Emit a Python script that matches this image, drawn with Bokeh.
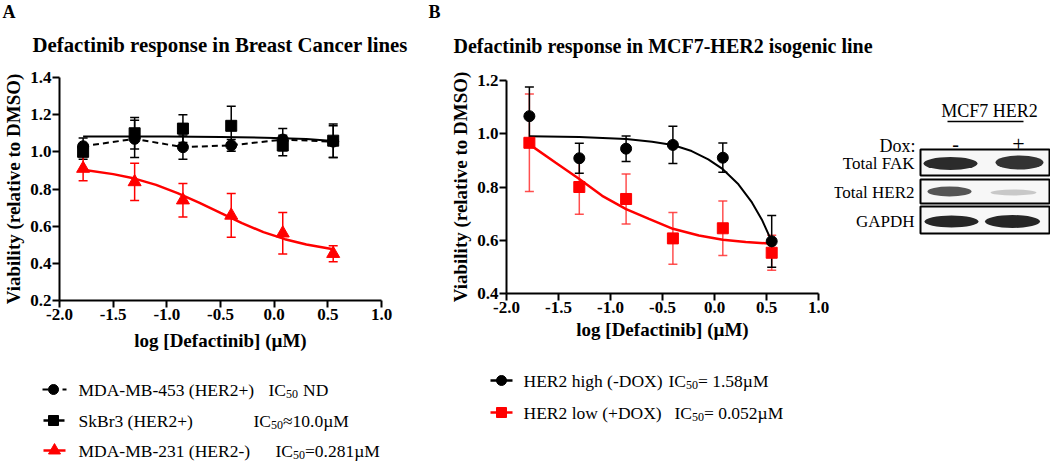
from bokeh.plotting import figure
from bokeh.models import Range1d, FixedTicker, NumeralTickFormatter, Whisker, TeeHead, ColumnDataSource
from bokeh.layouts import row, column
from bokeh.core.properties import value
from bokeh.embed import file_html
from bokeh.resources import INLINE

SERIF = "Liberation Serif"

# ---------------- data ----------------
log_conc = [-1.78, -1.30, -0.85, -0.40, 0.08, 0.55]

# Panel A
mda453_mean = [1.030, 1.070, 1.025, 1.035, 1.066, 1.055]
mda453_sd = [0.045, 0.100, 0.065, 0.032, 0.060, 0.085]
skbr3_mean = [1.000, 1.100, 1.125, 1.140, 1.034, 1.060]
skbr3_sd = [0.040, 0.085, 0.075, 0.105, 0.055, 0.090]
mda231_mean = [0.910, 0.838, 0.740, 0.658, 0.562, 0.452]
mda231_sd = [0.065, 0.100, 0.090, 0.118, 0.112, 0.043]

skbr3_fit_x = [-1.78, -1.0, -0.5, 0.0, 0.3, 0.55]
skbr3_fit_y = [1.083, 1.082, 1.080, 1.075, 1.069, 1.058]
mda231_fit_x = [-1.78, -1.5, -1.3, -1.1, -0.9, -0.7, -0.5, -0.3, -0.1, 0.1, 0.3, 0.55]
mda231_fit_y = [0.903, 0.880, 0.856, 0.822, 0.778, 0.727, 0.671, 0.616, 0.568, 0.530, 0.501, 0.476]

# Panel B
her2_high_mean = [1.066, 0.908, 0.944, 0.958, 0.910, 0.596]
her2_high_sd = [0.110, 0.056, 0.048, 0.070, 0.055, 0.097]
her2_low_mean = [0.966, 0.800, 0.755, 0.607, 0.645, 0.553]
her2_low_sd = [0.183, 0.102, 0.094, 0.097, 0.102, 0.066]

her2_high_fit_x = [-1.78, -1.30, -0.85, -0.60, -0.40, -0.22, -0.06, 0.08, 0.23, 0.36, 0.46, 0.55]
her2_high_fit_y = [0.991, 0.988, 0.980, 0.970, 0.958, 0.935, 0.904, 0.867, 0.810, 0.742, 0.674, 0.596]
her2_low_fit_x = [-1.78, -1.53, -1.30, -1.08, -0.85, -0.63, -0.40, -0.15, 0.08, 0.30, 0.55]
her2_low_fit_y = [0.960, 0.892, 0.830, 0.767, 0.717, 0.680, 0.643, 0.618, 0.602, 0.593, 0.587]

x_ticks = [-2.0, -1.5, -1.0, -0.5, 0.0, 0.5, 1.0]
a_y_ticks = [0.2, 0.4, 0.6, 0.8, 1.0, 1.2, 1.4]
b_y_ticks = [0.4, 0.6, 0.8, 1.0, 1.2]

title_a = "Defactinib response in Breast Cancer lines"
title_b = "Defactinib response in MCF7-HER2 isogenic line"
x_label = "log [Defactinib] (\u00b5M)"
y_label = "Viability (relative to DMSO)"

legend_a_names = ["MDA-MB-453 (HER2+)", "SkBr3 (HER2+)", "MDA-MB-231 (HER2-)"]
legend_a_ic50 = ["ND", "\u224810.0\u00b5M", "=0.281\u00b5M"]
legend_b_names = ["HER2 high (-DOX)", "HER2 low (+DOX)"]
legend_b_ic50 = ["= 1.58\u00b5M", "= 0.052\u00b5M"]
blot_rows = ["Total FAK", "Total HER2", "GAPDH"]

RED = "#ff0000"
BLACK = "#000000"
LEG_SIZE = "17.5px"


# ---------------- helpers ----------------
def canvas(w, h, top=0, bottom=0, **kw):
    fh = h - top - bottom
    p = figure(width=w, height=h, x_range=Range1d(0, w), y_range=Range1d(fh, 0),
               toolbar_location=None, output_backend="svg", title=None,
               x_axis_location=None, y_axis_location=None, min_border=0,
               min_border_top=top, min_border_bottom=bottom, min_border_left=0,
               min_border_right=0, **kw)
    p.outline_line_color = None
    p.grid.visible = False
    p.background_fill_color = "white"
    p.border_fill_color = "white"
    return p


def txt(p, x, y, s, size, bold=False, align="left", baseline="middle", color=BLACK):
    p.text(x=[x], y=[y], text=[s], text_font=value(SERIF), text_font_size=size,
           text_font_style="bold" if bold else "normal", text_align=align,
           text_baseline=baseline, text_color=color)


def ic50(p, x, y, rest, gap=0):
    txt(p, x, y, "IC", LEG_SIZE)
    txt(p, x + 17.5, y + 4, "50", "12px")
    txt(p, x + 29.5 + gap, y, rest, LEG_SIZE)


def style_axis(ax):
    ax.axis_line_width = 2
    ax.axis_line_color = BLACK
    ax.major_tick_line_width = 2
    ax.major_tick_line_color = BLACK
    ax.major_tick_out = 7
    ax.major_tick_in = 0
    ax.minor_tick_line_color = None
    ax.major_label_text_font = SERIF
    ax.major_label_text_font_size = "17px"
    ax.major_label_text_font_style = "bold"
    ax.major_label_text_color = BLACK
    ax.major_label_standoff = 1
    ax.axis_label_text_font = SERIF
    ax.axis_label_text_font_size = "19px"
    ax.axis_label_text_font_style = "bold"
    ax.axis_label_text_color = BLACK
    ax.formatter = NumeralTickFormatter(format="0.0")


def plot_fig(w, h, yr, left, right, top, bottom, yticks, ylab_standoff, xlab_standoff, **kw):
    p = figure(width=w, height=h, x_range=Range1d(-2.0, 1.0), y_range=Range1d(*yr),
               toolbar_location=None, output_backend="svg", title=None,
               min_border_left=left, min_border_right=right,
               min_border_top=top, min_border_bottom=bottom, **kw)
    p.outline_line_color = None
    p.grid.visible = False
    style_axis(p.xaxis[0])
    style_axis(p.yaxis[0])
    p.xaxis[0].ticker = FixedTicker(ticks=x_ticks)
    p.yaxis[0].ticker = FixedTicker(ticks=yticks)
    p.xaxis[0].axis_label = x_label
    p.yaxis[0].axis_label = y_label
    p.yaxis[0].axis_label_standoff = ylab_standoff
    p.xaxis[0].axis_label_standoff = xlab_standoff
    return p


def errbars(p, xs, means, sds, color, alpha=1.0):
    src = ColumnDataSource(dict(x=xs,
                                upper=[m + s for m, s in zip(means, sds)],
                                lower=[m - s for m, s in zip(means, sds)]))
    w = Whisker(source=src, base="x", upper="upper", lower="lower", dimension="height",
                line_color=color, line_width=1.5, line_alpha=alpha, level="underlay",
                upper_head=TeeHead(size=9, line_color=color, line_width=1.5, line_alpha=alpha),
                lower_head=TeeHead(size=9, line_color=color, line_width=1.5, line_alpha=alpha))
    p.add_layout(w)


# ---------------- headers ----------------
headA = canvas(420, 60)
txt(headA, 2, 1, "A", "18px", bold=True, baseline="top")
txt(headA, 32, 44, title_a, "20.8px", bold=True)

headB = canvas(630, 60)
txt(headB, 8, 1, "B", "18px", bold=True, baseline="top")
txt(headB, 33, 45, title_b, "20px", bold=True)

# ---------------- panel A ----------------
figA = plot_fig(420, 300, (0.2, 1.4), 55, 39, 17, 60, a_y_ticks, 3, 7)
errbars(figA, log_conc, mda453_mean, mda453_sd, BLACK)
errbars(figA, log_conc, skbr3_mean, skbr3_sd, BLACK)
errbars(figA, log_conc, mda231_mean, mda231_sd, RED)
figA.line(log_conc, mda453_mean, line_color=BLACK, line_width=2, line_dash="6 4")
figA.line(skbr3_fit_x, skbr3_fit_y, line_color=BLACK, line_width=2)
figA.line(mda231_fit_x, mda231_fit_y, line_color=RED, line_width=2.5)
figA.scatter(log_conc, mda453_mean, marker="circle", size=11, color=BLACK)
figA.scatter(log_conc, skbr3_mean, marker="square", size=11, color=BLACK)
figA.scatter(log_conc, mda231_mean, marker="triangle", size=13, color=RED)

# ---------------- panel B ----------------
figB = plot_fig(414, 290, (0.4, 1.2), 86, 16, 17, 60, b_y_ticks, 3, 3, margin=(3, 0, 0, 0))
errbars(figB, log_conc, her2_low_mean, her2_low_sd, "#ff3030", 0.85)
errbars(figB, log_conc, her2_high_mean, her2_high_sd, BLACK)
figB.line(her2_low_fit_x, her2_low_fit_y, line_color=RED, line_width=2.5)
figB.line(her2_high_fit_x, her2_high_fit_y, line_color=BLACK, line_width=2)
figB.scatter(log_conc, her2_low_mean, marker="square", size=11, color=RED)
figB.scatter(log_conc, her2_high_mean, marker="circle", size=11, color=BLACK)

# ---------------- western blot ----------------
blot = canvas(216, 300, top=17, bottom=60)
txt(blot, 155, 33, "MCF7 HER2", "18px", align="center")
blot.segment(x0=[113], y0=[44], x1=[189], y1=[44], line_color=BLACK, line_width=1.5)
txt(blot, 81, 68, "Dox:", "18px", align="right", baseline="alphabetic")
txt(blot, 121, 66, "-", "20px", align="center", baseline="alphabetic")
txt(blot, 184, 66, "+", "22px", align="center", baseline="alphabetic")
box_top = [72, 102, 129]
box_bot = [98, 126, 156]
label_y = [86, 115, 144]
blot.quad(left=[86, 86, 86], right=[215, 215, 215], top=box_top, bottom=box_bot,
          fill_color="#f7f7f7", line_color=BLACK, line_width=2)
for name, ly in zip(blot_rows, label_y):
    txt(blot, 80, ly, name, "17px", align="right")
blot.ellipse(x=[116, 185, 115, 179, 117, 178],
             y=[86, 85, 114, 115, 144, 144],
             width=[54, 48, 44, 46, 54, 55],
             height=[13, 14, 10, 6, 12, 13],
             fill_color=["#2b2b2b", "#333333", "#555555", "#c8c8c8", "#262626", "#262626"],
             line_color=None)

# ---------------- legends ----------------
legA = canvas(420, 102)
rows_a = [29, 60, 90]
ic_x_a = [268, 253, 275]
gap_a = [5, 0, 0]
legA.segment(x0=[42], y0=[rows_a[0]], x1=[66], y1=[rows_a[0]], line_color=BLACK, line_width=2, line_dash="6 4")
legA.scatter([53], [rows_a[0]], marker="circle", size=10, color=BLACK)
legA.segment(x0=[43], y0=[rows_a[1]], x1=[64], y1=[rows_a[1]], line_color=BLACK, line_width=2.5)
legA.scatter([53], [rows_a[1]], marker="square", size=10, color=BLACK)
legA.segment(x0=[43], y0=[rows_a[2]], x1=[65], y1=[rows_a[2]], line_color=RED, line_width=2.5)
legA.scatter([54], [rows_a[2]], marker="triangle", size=12, color=RED)
for name, rest, ry, ix, g in zip(legend_a_names, legend_a_ic50, rows_a, ic_x_a, gap_a):
    txt(legA, 78, ry, name, LEG_SIZE)
    ic50(legA, ix, ry, rest, g)

legB = canvas(630, 102)
rows_b = [20, 52]
ic_x_b = [248, 254]
legB.segment(x0=[70], y0=[rows_b[0]], x1=[92], y1=[rows_b[0]], line_color=BLACK, line_width=2.5)
legB.scatter([81], [rows_b[0]], marker="circle", size=10, color=BLACK)
legB.segment(x0=[70], y0=[rows_b[1]], x1=[92], y1=[rows_b[1]], line_color=RED, line_width=2.5)
legB.scatter([81], [rows_b[1]], marker="square", size=10, color=RED)
for name, rest, ry, ix in zip(legend_b_names, legend_b_ic50, rows_b, ic_x_b):
    txt(legB, 103, ry, name, LEG_SIZE)
    ic50(legB, ix, ry, rest)

layout = column(row(headA, headB), row(figA, figB, blot), row(legA, legB))

open("out.html", "w").write(file_html(layout, INLINE))
